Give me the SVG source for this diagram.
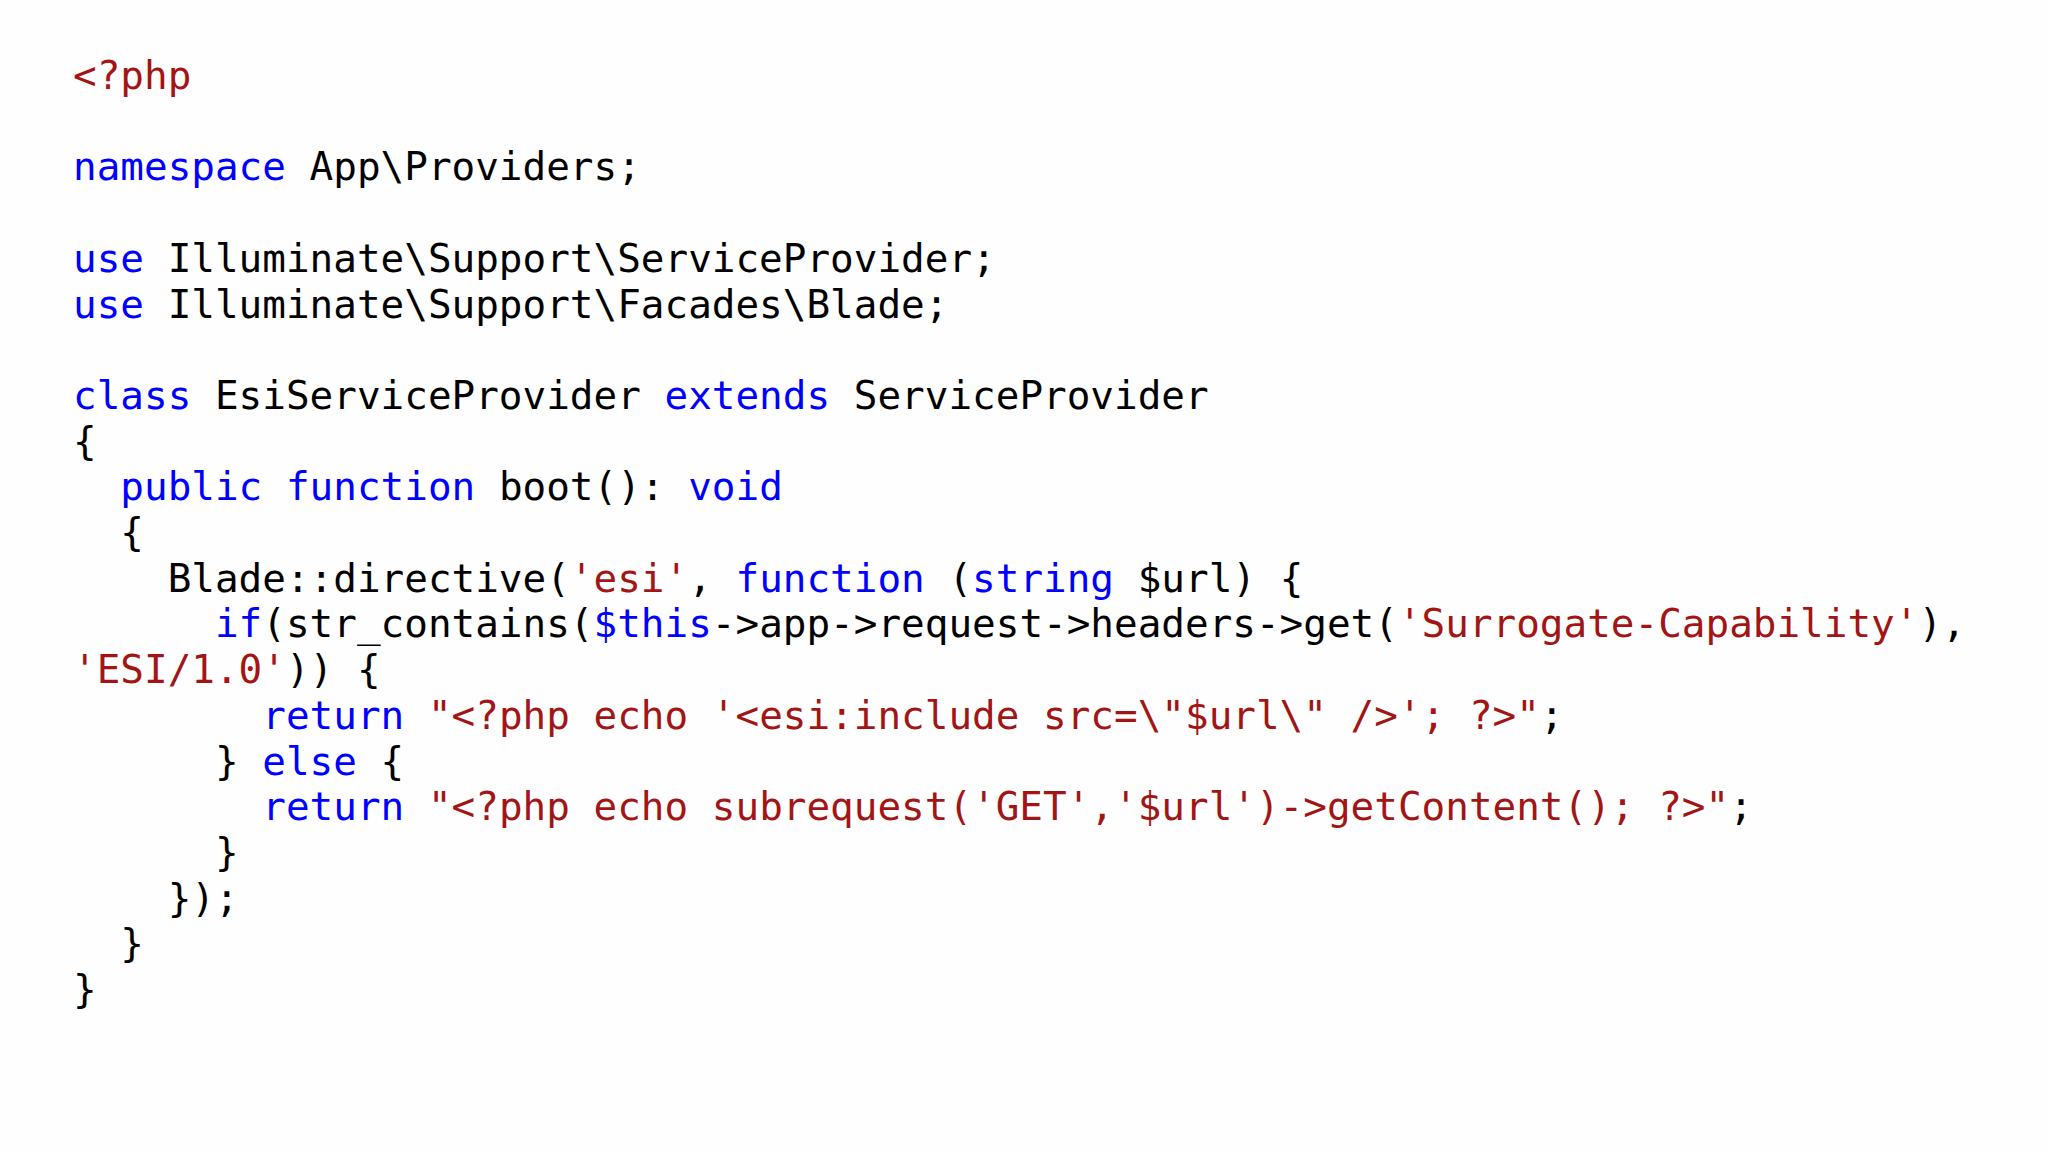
<svg xmlns="http://www.w3.org/2000/svg" width="2048" height="1152" viewBox="0 0 2048 1152">
<style>
text{font-family:"DejaVu Sans Mono","Liberation Mono",monospace;font-size:39.3px;fill:#000;white-space:pre}
.k{fill:#0000ff}
.s{fill:#a31515}
</style>
<rect width="2048" height="1152" fill="#fefefe"/>
<g id="code" xml:space="preserve">
<text x="73" y="89" class="s">&lt;?php</text>
<text x="73" y="180.4"><tspan class="k">namespace</tspan> App\Providers;</text>
<text x="73" y="271.8"><tspan class="k">use</tspan> Illuminate\Support\ServiceProvider;</text>
<text x="73" y="317.5"><tspan class="k">use</tspan> Illuminate\Support\Facades\Blade;</text>
<text x="73" y="408.9"><tspan class="k">class</tspan> EsiServiceProvider <tspan class="k">extends</tspan> ServiceProvider</text>
<text x="73" y="454.6">{</text>
<text x="73" y="500.3">  <tspan class="k">public</tspan> <tspan class="k">function</tspan> boot(): <tspan class="k">void</tspan></text>
<text x="73" y="546">  {</text>
<text x="73" y="591.7">    Blade::directive(<tspan class="s">'esi'</tspan>, <tspan class="k">function</tspan> (<tspan class="k">string</tspan> $url) {</text>
<text x="73" y="637.4">      <tspan class="k">if</tspan>(str_contains(<tspan class="k">$this</tspan>-&gt;app-&gt;request-&gt;headers-&gt;get(<tspan class="s">'Surrogate-Capability'</tspan>),</text>
<text x="73" y="683.1"><tspan class="s">'ESI/1.0'</tspan>)) {</text>
<text x="73" y="728.8">        <tspan class="k">return</tspan> <tspan class="s">"&lt;?php echo '&lt;esi:include src=\"$url\" /&gt;'; ?&gt;"</tspan>;</text>
<text x="73" y="774.5">      } <tspan class="k">else</tspan> {</text>
<text x="73" y="820.2">        <tspan class="k">return</tspan> <tspan class="s">"&lt;?php echo subrequest('GET','$url')-&gt;getContent(); ?&gt;"</tspan>;</text>
<text x="73" y="865.9">      }</text>
<text x="73" y="911.6">    });</text>
<text x="73" y="957.3">  }</text>
<text x="73" y="1003">}</text>
</g>
</svg>
